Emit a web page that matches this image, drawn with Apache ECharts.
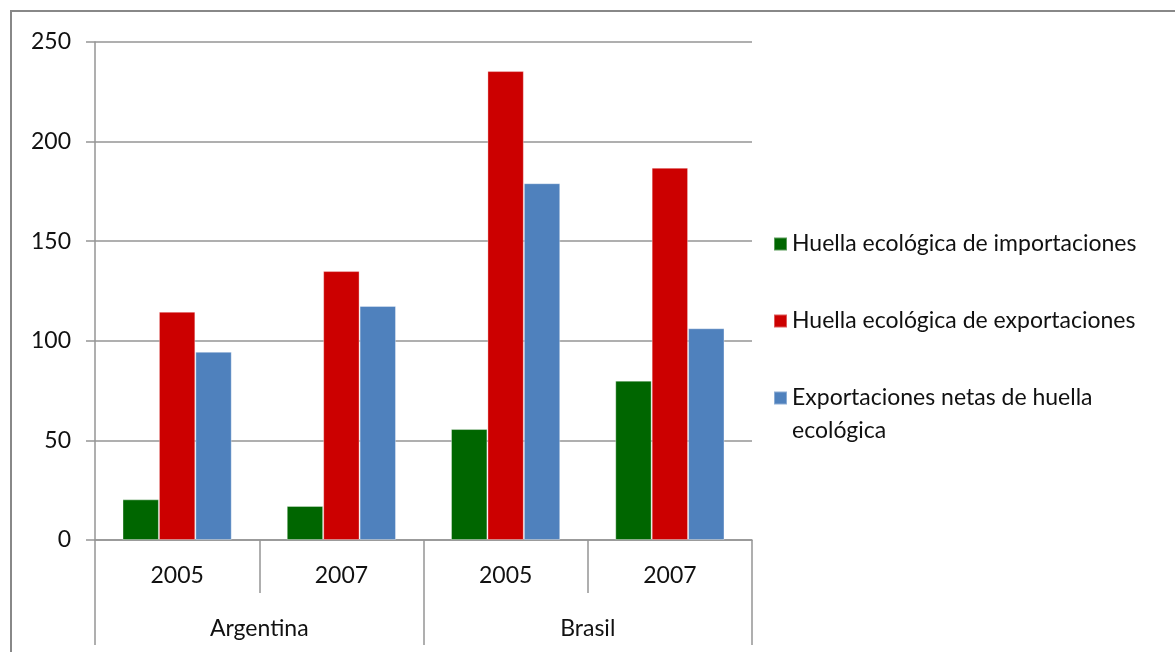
<!DOCTYPE html>
<html>
<head>
<meta charset="utf-8">
<script src="https://cdn.jsdelivr.net/npm/echarts@6/dist/echarts.min.js"></script>
<style>
  html, body { margin: 0; padding: 0; background: #fff; }
  #chart { width: 1175px; height: 652px; }
</style>
</head>
<body>
<div id="chart"></div>
<script>
// Years within each country group, and the countries themselves
const years = ['2005', '2007', '2005', '2007'];
const countries = ['Argentina', 'Brasil'];

// Series names
const seriesNames = [
  'Huella ecológica de importaciones',
  'Huella ecológica de exportaciones',
  'Exportaciones netas de huella ecológica'
];

// Values per bar (Argentina 2005, Argentina 2007, Brasil 2005, Brasil 2007)
const imports = [20.4, 17.1, 55.7, 80.0];
const exports = [114.6, 135.0, 235.4, 186.9];
const netExports = [94.5, 117.5, 179.1, 106.3];

// Y axis range
const yMin = 0, yMax = 250, yStep = 50;

const colors = ['#006600', '#cc0000', '#4f81bd'];
const axisGray = '#959595';
const textColor = '#111111';
const font = 'Lato';
const fontSize = 23;

const chart = echarts.init(document.getElementById('chart'), null, { renderer: 'canvas' });

// One legend block per series so each entry can sit at its own height
function legendFor(name, top, formatter) {
  return {
    data: [name],
    orient: 'vertical',
    left: 773,
    top: top,
    icon: 'rect',
    itemWidth: 13,
    itemHeight: 13,
    itemGap: 0,
    padding: 0,
    formatter: formatter,
    selectedMode: false,
    textStyle: {
      fontFamily: font,
      fontSize: fontSize,
      color: textColor,
      lineHeight: 33
    }
  };
}

chart.setOption({
  animation: false,
  color: colors,
  graphic: [{
    type: 'rect',
    silent: true,
    z: -10,
    shape: { x: 11, y: 11, width: 1400, height: 900 },
    style: { fill: 'none', stroke: '#888888', lineWidth: 2 }
  }],
  grid: { left: 95, right: 423, top: 42, bottom: 112, containLabel: false },
  legend: [
    legendFor(seriesNames[0], 227.5),
    legendFor(seriesNames[1], 304.5),
    // leading blank line keeps the marker level with the first text line
    legendFor(seriesNames[2], 348.5,
      function () { return ' \nExportaciones netas de huella\necológica'; })
  ],
  xAxis: [{
    type: 'category',
    data: years,
    position: 'bottom',
    axisLine: { show: true, lineStyle: { color: axisGray, width: 1.5 } },
    axisTick: { show: true, interval: 0, alignWithLabel: false, length: 53, lineStyle: { color: axisGray, width: 1.5 } },
    axisLabel: { interval: 0, margin: 24, fontFamily: font, fontSize: fontSize, color: textColor },
    splitLine: { show: false }
  }, {
    type: 'category',
    data: countries,
    position: 'bottom',
    axisLine: { show: false },
    axisTick: { show: true, interval: 0, alignWithLabel: false, length: 105, lineStyle: { color: axisGray, width: 1.5 } },
    axisLabel: { interval: 0, margin: 77, fontFamily: font, fontSize: fontSize, color: textColor },
    splitLine: { show: false }
  }],
  yAxis: {
    type: 'value',
    min: yMin,
    max: yMax,
    interval: yStep,
    axisLine: { show: true, lineStyle: { color: axisGray, width: 1.5 } },
    axisTick: { show: true, length: 9, lineStyle: { color: axisGray, width: 1.5 } },
    axisLabel: { margin: 24, fontFamily: font, fontSize: fontSize, color: textColor },
    splitLine: { show: true, lineStyle: { color: axisGray, width: 1.5 } }
  },
  series: [
    { name: seriesNames[0], type: 'bar', data: imports, barGap: '0%', barCategoryGap: '33.5%',
      itemStyle: { borderColor: 'rgba(255,255,255,0.35)', borderWidth: 1 } },
    { name: seriesNames[1], type: 'bar', data: exports, barGap: '0%', barCategoryGap: '33.5%',
      itemStyle: { borderColor: 'rgba(255,255,255,0.35)', borderWidth: 1 } },
    { name: seriesNames[2], type: 'bar', data: netExports, barGap: '0%', barCategoryGap: '33.5%',
      itemStyle: { borderColor: 'rgba(255,255,255,0.35)', borderWidth: 1 } }
  ]
});
</script>
</body>
</html>
